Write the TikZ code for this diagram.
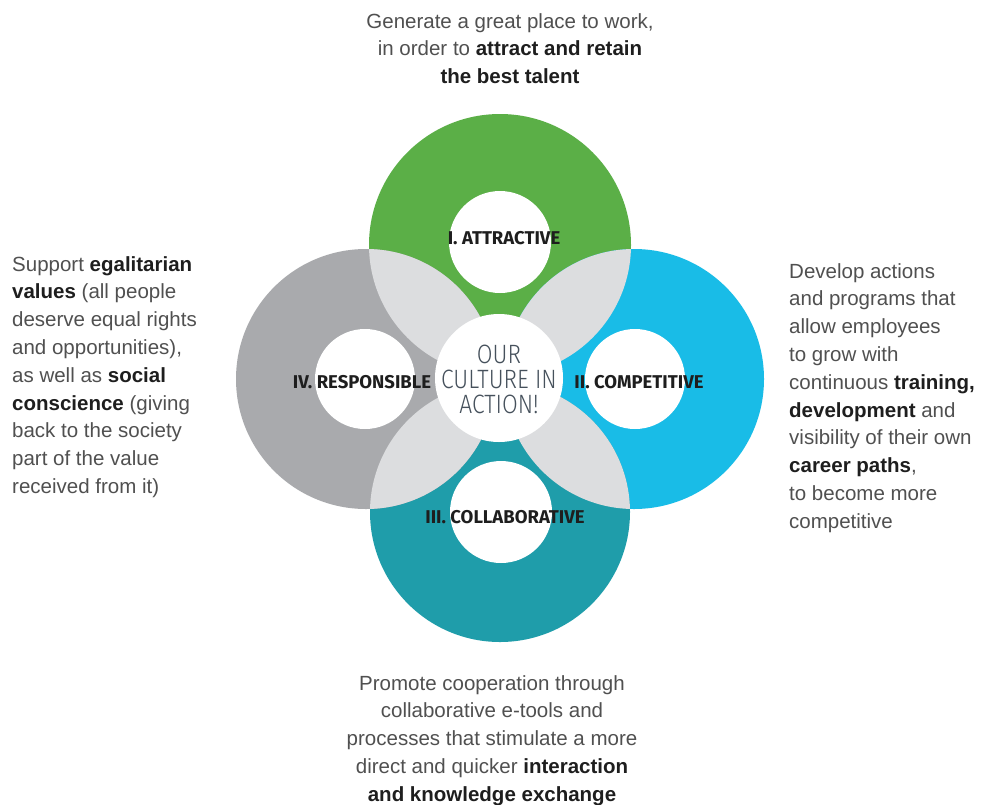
\documentclass[tikz,border=0pt]{standalone}
\usepackage{fontspec}
\setmainfont{Liberation Sans}
\newfontfamily\labelfont{Fira Sans}
\newfontfamily\centerfont[FakeStretch=0.86]{Fira Sans Light}
\definecolor{cgreen}{HTML}{5BAF47}
\definecolor{cblue}{HTML}{19BCE7}
\definecolor{cteal}{HTML}{1F9DAA}
\definecolor{cgray}{HTML}{A9AAAD}
\definecolor{clens}{HTML}{DCDDDF}
\definecolor{ctext}{HTML}{505050}
\definecolor{cdark}{HTML}{1E1E1E}
\definecolor{ccenter}{HTML}{46515C}
\tikzset{
  body/.style={inner sep=0pt, text=ctext, font=\fontsize{20.5}{27.8}\selectfont},
  lbl/.style={inner sep=0pt, text=cdark, font=\labelfont\bfseries\fontsize{18.5}{20}\selectfont},
  ctr/.style={inner sep=0pt, text=ccenter, align=center, font=\centerfont\fontsize{26.5}{25}\selectfont},
}
\newcommand{\bb}[1]{\textbf{\color{cdark}#1}}
\begin{document}
\begin{tikzpicture}[x=1pt,y=-1pt]
\useasboundingbox (0,0) rectangle (982,804);
\fill[white] (0,0) rectangle (982,804);
% centers
\coordinate (G) at (500,245);
\coordinate (B) at (634,379);
\coordinate (T) at (500,512);
\coordinate (R) at (366,379);
\coordinate (C) at (499,378);
% rings
\fill[cgreen] (G) circle (131pt);
\fill[cblue] (B) circle (130pt);
\fill[cteal] (T) circle (130pt);
\fill[cgray] (R) circle (130pt);
% lenses
\begin{scope}\clip (G) circle (131pt); \fill[clens] (R) circle (130pt); \fill[clens] (B) circle (130pt); \end{scope}
\begin{scope}\clip (T) circle (130pt); \fill[clens] (R) circle (130pt); \fill[clens] (B) circle (130pt); \end{scope}
% inner white
\fill[white] (500,242) circle (51pt);
\fill[white] (635,379) circle (50pt);
\fill[white] (501,512) circle (51pt);
\fill[white] (365,379) circle (50pt);
\fill[white] (C) circle (64pt);
% labels
\node[lbl] (l1) at (504,238) {I. ATTRACTIVE};
\node[lbl] (l2) at (639,382) {II. COMPETITIVE};
\node[lbl] (l3) at (505,517) {III. COLLABORATIVE};
\node[lbl] (l4) at (362,382) {IV. RESPONSIBLE};
\node[ctr, anchor=base] (ctr) at (499,413) {OUR\\CULTURE IN\\ACTION!};
% texts
\node[body, align=center, anchor=north] (ttop) at (510,13)
 {Generate a great place to work,\\in order to \bb{attract and retain}\\\bb{the best talent}};
\node[body, align=left, anchor=north west] (tleft) at (12,256)
 {Support \bb{egalitarian}\\\bb{values} (all people\\deserve equal rights\\and opportunities),\\as well as \bb{social}\\\bb{conscience} (giving\\back to the society\\part of the value\\received from it)};
\node[body, align=left, anchor=north west] (tright) at (789,263)
 {Develop actions\\and programs that\\allow employees\\to grow with\\continuous \bb{training,}\\\bb{development} and\\visibility of their own\\\bb{career paths},\\to become more\\competitive};
\node[body, align=center, anchor=north] (tbot) at (492,675)
 {Promote cooperation through\\collaborative e-tools and\\processes that stimulate a more\\direct and quicker \bb{interaction}\\\bb{and knowledge exchange}};
\end{tikzpicture}
\end{document}
